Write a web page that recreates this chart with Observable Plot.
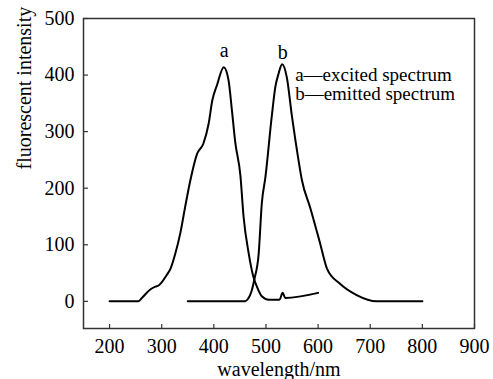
<!DOCTYPE html>
<html>
<head>
<meta charset="utf-8">
<script src="https://cdn.jsdelivr.net/npm/d3@7"></script>
<script src="https://cdn.jsdelivr.net/npm/@observablehq/plot@0.6"></script>
<style>
  html, body { margin: 0; padding: 0; background: #fff; }
  #chart svg { display: block; }
</style>
</head>
<body>
<div id="chart"></div>
<script>
// Curve a — excitation spectrum
const aWavelength = [200, 255, 262, 278, 288, 294, 310, 317, 326, 336, 345, 355, 368, 380, 390, 397, 406, 419, 428, 435, 441, 451, 457, 467, 476, 483, 492, 505, 526, 532, 537, 600];
const aIntensity  = [0,   0,   6,   21,  26,  28,  47,  58,  84,  122, 167, 214, 261, 279, 314, 355, 382, 414, 392, 335, 282, 222, 150, 84,  43,  25,  9,   3,   3,   15,  6,   15];
// Curve b — emission spectrum
const bWavelength = [350, 460, 466, 472, 478, 486, 492, 499, 511, 518, 524, 531, 540, 550, 562, 569, 585, 604, 617, 642, 674, 712, 800];
const bIntensity  = [0,   0,   5,   17,  40,  84,  173, 220, 326, 379, 402, 419, 396, 326, 252, 214, 165, 102, 58,  31,  11,  0,   0];

const xTicks = [200, 300, 400, 500, 600, 700, 800, 900];
const yTicks = [0, 100, 200, 300, 400, 500];

const peakLabels = ["a", "b"];
const peakX = [420, 532];
const peakY = [443, 440];

const legendLines = ["a\u2014excited spectrum", "b\u2014emitted spectrum"];
const legendX = 556;
const legendY = 384;

const xLabel = "wavelength/nm";
const yLabel = "fluorescent intensity";

const curveA = aWavelength.map((x, i) => ({x, y: aIntensity[i]}));
const curveB = bWavelength.map((x, i) => ({x, y: bIntensity[i]}));
const peaks = peakLabels.map((t, i) => ({t, x: peakX[i], y: peakY[i]}));
const legend = [{t: legendLines.join("\n"), x: legendX, y: legendY}];

const font = "'Liberation Serif', 'Times New Roman', serif";

const chart = Plot.plot({
  width: 493,
  height: 379,
  marginLeft: 83,
  marginRight: 19,
  marginTop: 18,
  marginBottom: 51,
  style: {fontFamily: font, fontSize: "20px", color: "#000", background: "#fff"},
  x: {domain: [150, 900]},
  y: {domain: [-48, 500]},
  marks: [
    Plot.frame({stroke: "#333", strokeWidth: 1.5}),
    // tick labels
    Plot.axisX(xTicks, {tickSize: 0, tickPadding: 10, label: null, fontSize: 20}),
    Plot.axisY(yTicks, {tickSize: 0, tickPadding: 9, label: null, fontSize: 20}),
    // inward tick marks
    Plot.axisX(xTicks, {tickSize: 4, dy: -4, fill: "none", stroke: "#333", strokeWidth: 1.2, label: null}),
    Plot.axisY(yTicks, {tickSize: 5, dx: 5, fill: "none", stroke: "#333", strokeWidth: 1.2, label: null}),
    // axis titles
    Plot.text([xLabel], {frameAnchor: "bottom", dy: 47, lineAnchor: "bottom", fontSize: 20, fill: "#000"}),
    Plot.text([yLabel], {frameAnchor: "left", rotate: -90, dx: -59, dy: -4, fontSize: 20, fill: "#000"}),
    // curves
    Plot.line(curveA, {x: "x", y: "y", stroke: "#000", strokeWidth: 2, curve: "monotone-x"}),
    Plot.line(curveB, {x: "x", y: "y", stroke: "#000", strokeWidth: 2, curve: "monotone-x"}),
    // annotations
    Plot.text(peaks, {x: "x", y: "y", text: "t", fontSize: 20, fill: "#000"}),
    Plot.text(legend, {x: "x", y: "y", text: "t", textAnchor: "start", lineHeight: 1.05, fontSize: 19, fill: "#000"})
  ]
});

document.getElementById("chart").appendChild(chart);
</script>
</body>
</html>
